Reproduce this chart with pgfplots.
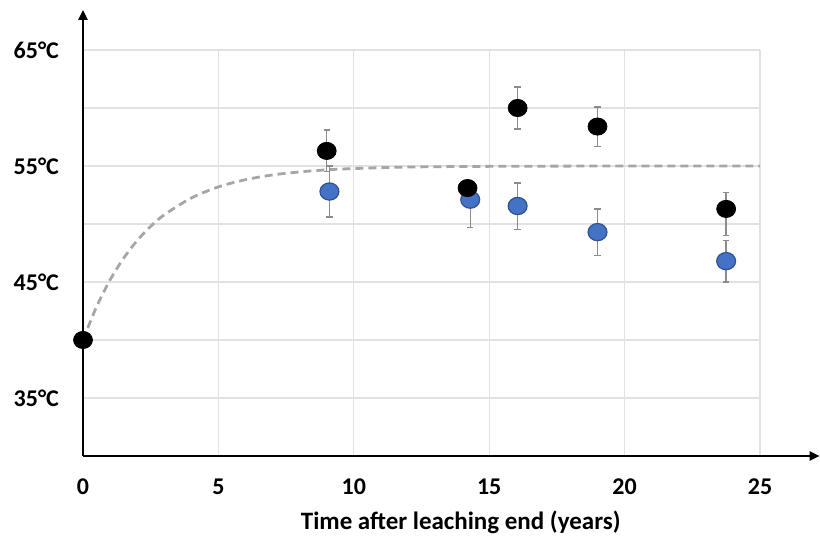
\documentclass[border=0pt]{standalone}
\usepackage{pgfplots}
\pgfplotsset{compat=1.18}
\usepackage{fontspec}
\setmainfont{Carlito}
\usetikzlibrary{arrows.meta}
\definecolor{bluept}{HTML}{4472C4}
\definecolor{blueedge}{HTML}{2F528F}
\definecolor{gridc}{HTML}{E2E2E2}
\definecolor{errc}{HTML}{8C8C8C}
\definecolor{dashc}{HTML}{A6A6A6}
\begin{document}
\begin{tikzpicture}
\begin{axis}[
  scale only axis, width=338.5pt, height=203pt,
  xmin=0, xmax=25, ymin=30, ymax=65,
  axis line style={draw=none},
  xtick={0,5,10,15,20,25},
  ytick={35,45,55,65}, yticklabels={35°C,45°C,55°C,65°C},
  minor ytick={40,50,60},
  grid=both,
  major grid style={gridc, line width=0.6pt},
  minor grid style={gridc, line width=0.6pt},
  major tick length=0pt, minor tick length=0pt,
  tick label style={font=\bfseries\fontsize{12}{14}\selectfont},
  /pgf/number format/assume math mode=true,
  xticklabel style={yshift=-7.8pt},
  yticklabel style={xshift=-8.5pt},
  xlabel={Time after leaching end (years)},
  xlabel style={font=\bfseries\fontsize{12.5}{15}\selectfont, at={(axis description cs:0.558,0)}, anchor=center, yshift=-33pt},
  clip=false,
]
\coordinate (O) at (axis cs:0,30);
\draw[line width=1.2pt, -{Triangle[length=5pt,width=4.5pt]}] (axis cs:0,30) -- (axis cs:27.2,30);
\draw[line width=1.2pt, -{Triangle[length=5pt,width=4.5pt]}] (axis cs:0,30) -- (axis cs:0,68.45);
% fitted dashed curve
\addplot[dashc, line width=1.4pt, dash pattern=on 4pt off 2.5pt, smooth] coordinates {
 (0,40) (0.5,42.86) (1,45.18) (1.5,47.05) (2,48.57) (2.5,49.80) (3,50.79) (4,52.24)
 (5,53.20) (6,53.82) (7,54.23) (8,54.49) (9,54.67) (10,54.78) (12,54.91) (15,54.97) (20,55.0) (25,55.0)};
% blue series
\addplot[only marks, mark=*, mark size=4.3pt,
  mark options={fill=bluept, draw=blueedge, line width=0.6pt, xscale=1.1},
  error bars/.cd, y dir=both, y explicit,
  error bar style={errc, line width=0.7pt},
  error mark options={rotate=90, errc, mark size=1.6pt, line width=0.7pt}]
coordinates {
 (9.1,52.8) +- (0,2.2)
 (14.3,52.1) += (0,1.5) -= (0,2.4)
 (16.05,51.55) +- (0,2.0)
 (19.0,49.3) +- (0,2.0)
 (23.75,46.8) +- (0,1.8)
};
% black series
\addplot[only marks, mark=*, mark size=4.3pt,
  mark options={fill=black, draw=black, xscale=1.1},
  error bars/.cd, y dir=both, y explicit,
  error bar style={errc, line width=0.7pt},
  error mark options={rotate=90, errc, mark size=1.6pt, line width=0.7pt}]
coordinates {
 (0,40) +- (0,0)
 (9.0,56.3) +- (0,1.8)
 (14.2,53.1) +- (0,0)
 (16.05,60.0) +- (0,1.8)
 (19.0,58.4) +- (0,1.7)
 (23.75,51.3) += (0,1.4) -= (0,2.3)
};
\end{axis}
\pgfresetboundingbox
\path[use as bounding box] (O) ++(-41.5pt,-44.5pt) rectangle ++(410pt,272.5pt);
\end{tikzpicture}
\end{document}
